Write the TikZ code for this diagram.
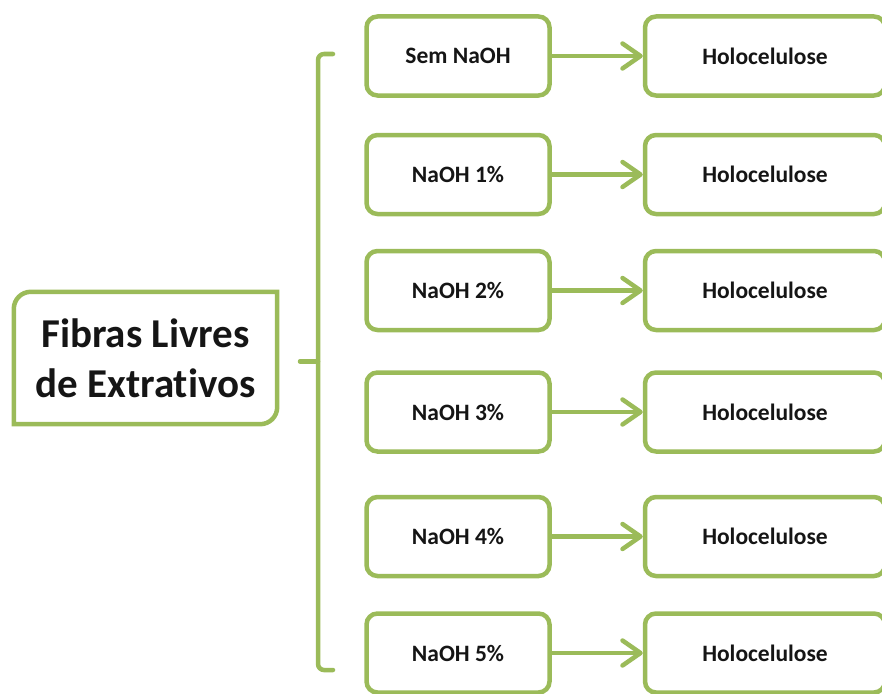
\documentclass[tikz,border=0pt]{standalone}
\usepackage{fontspec}
\setmainfont[Ligatures=NoCommon]{Carlito}
\usetikzlibrary{arrows.meta}
\definecolor{officegreen}{HTML}{9BBB59}
\definecolor{txt}{HTML}{151515}
\tikzset{
  box/.style={draw=officegreen, line width=4.5pt, rounded corners=11pt, fill=white,
    minimum width=183pt, minimum height=79pt, inner sep=0pt,
    font=\fontsize{23.5}{28}\selectfont\bfseries, text=txt},
  rbox/.style={box, minimum width=240pt},
  rootbox/.style={minimum width=263pt, minimum height=132pt, inner sep=0pt,
    align=center, font=\fontsize{41}{50}\selectfont\bfseries, text=txt},
  rootline/.style={draw=officegreen, line width=4.5pt},
  brace/.style={draw=officegreen, line width=4.5pt, rounded corners=6pt, line cap=round},
  arr/.style={draw=officegreen, line width=4.5pt,
    -{Straight Barb[length=18pt,width=25pt,line cap=round,line join=round]}},
}
\begin{document}
\begin{tikzpicture}[x=1pt,y=-1pt]
\useasboundingbox (0,0) rectangle (882,693);
% root
\node[rootbox] (root) at (145.5,358) {Fibras Livres\\de Extrativos};
\draw[rootline] (root.south) -- (root.south west) -- (root.west)
  [rounded corners=17pt] -- (root.north west) -- (root.north)
  [sharp corners] -- (root.north east) -- (root.east)
  [rounded corners=17pt] -- (root.south east) -- cycle;
% boxes
\foreach \i/\y/\t in {1/56/Sem NaOH, 2/174.5/NaOH 1\%, 3/290.5/NaOH 2\%, 4/412/NaOH 3\%, 5/536.5/NaOH 4\%, 6/653/NaOH 5\%}{
  \node[box] (m\i) at (458,\y) {\t};
  \node[rbox] (h\i) at (765,\y) {Holocelulose};
  \draw[arr] (m\i) -- (h\i);
}
% brace
\coordinate (btop) at (333,54);
\coordinate (bbot) at (333,670);
\coordinate (bmid) at (318,361.5);
\coordinate (btick) at (300,361.5);
\draw[brace] (btop) -- (318,54) -- (318,670) -- (bbot);
\draw[brace] (btick) -- (bmid);
\end{tikzpicture}
\end{document}
